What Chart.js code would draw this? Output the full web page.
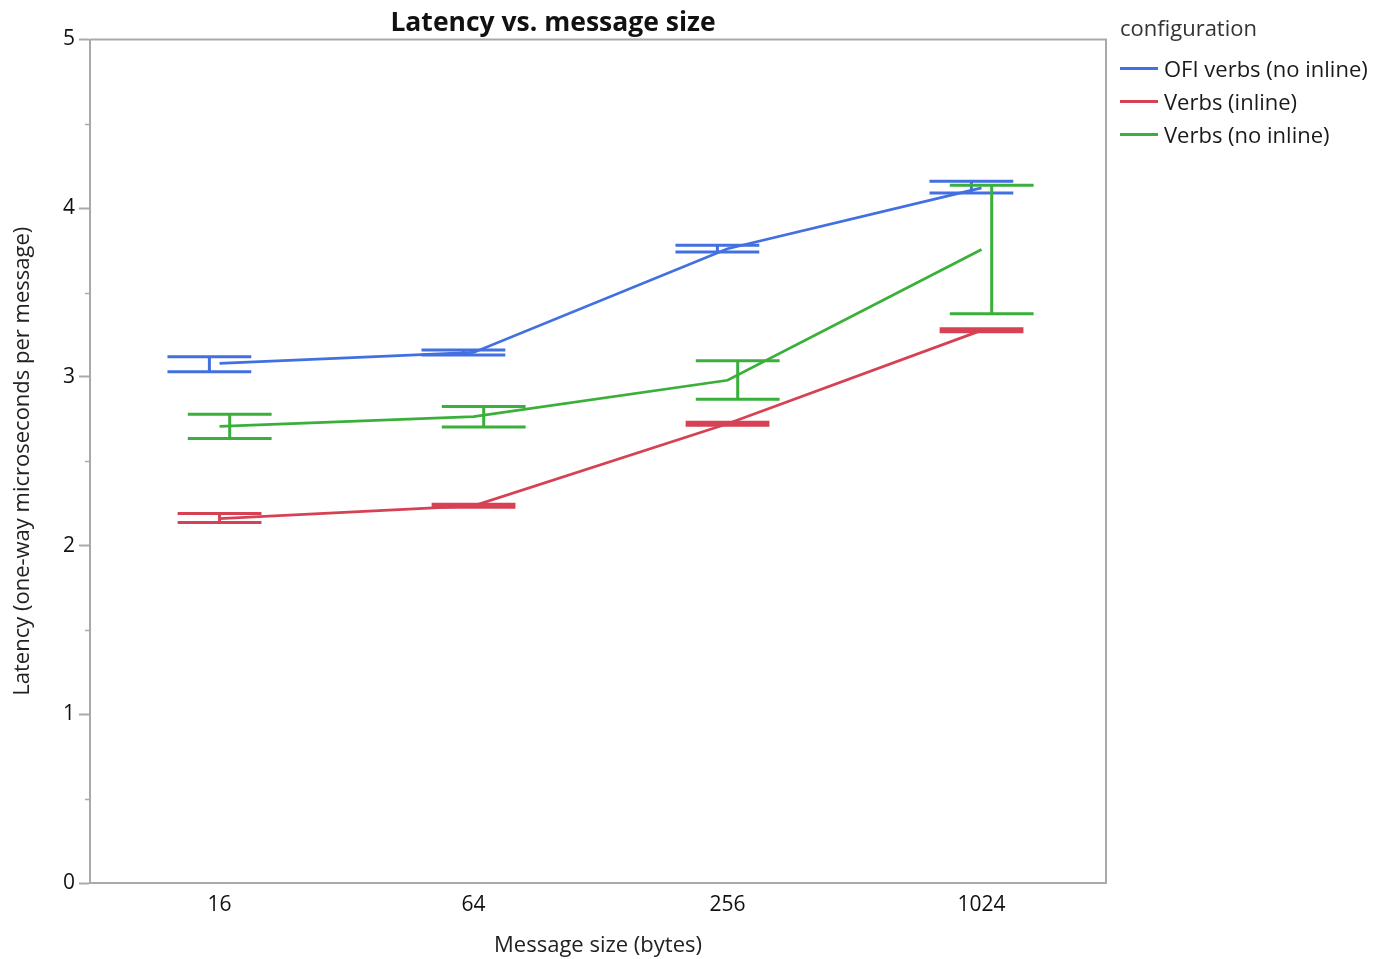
<!DOCTYPE html>
<html>
<head>
<meta charset="utf-8">
<title>Latency vs. message size</title>
<script src="https://cdn.jsdelivr.net/npm/chart.js@4/dist/chart.umd.min.js"></script>
<style>
  html, body { margin: 0; padding: 0; background: #ffffff; }
  #wrap { position: relative; width: 1373px; height: 959px; }
  #chart { position: absolute; left: 0; top: 0; }
  #legend { position: absolute; left: 1120px; top: 0; font-family: 'Open Sans', 'Noto Sans', sans-serif; color: #1a1a1a; }
  #legend .ttl { position: absolute; left: 0; top: 12px; font-size: 22px; line-height: 30px; white-space: nowrap; color: #333; }
  #legend .row { position: absolute; left: 0; height: 33px; line-height: 33px; font-size: 22px; white-space: nowrap; }
  #legend .sw { position: absolute; left: 0; top: 15px; width: 38px; height: 3px; }
  #legend .lbl { position: absolute; left: 44px; top: 0; }
</style>
</head>
<body>
<div id="wrap">
  <canvas id="chart" width="1373" height="959"></canvas>
  <div id="legend"></div>
</div>
<script>
// Message sizes on the x axis
const categories = ['16', '64', '256', '1024'];
const yTickValues = [0, 1, 2, 3, 4, 5];
const legendTitle = 'configuration';

// OFI verbs (no inline): mean latency and error-bar bounds
const ofiNoInlineMean = [3.08, 3.145, 3.76, 4.12];
const ofiNoInlineLow  = [3.03, 3.13, 3.74, 4.09];
const ofiNoInlineHigh = [3.12, 3.16, 3.78, 4.16];

// Verbs (inline)
const verbsInlineMean = [2.16, 2.236, 2.722, 3.276];
const verbsInlineLow  = [2.137, 2.227, 2.713, 3.267];
const verbsInlineHigh = [2.19, 2.245, 2.731, 3.285];

// Verbs (no inline)
const verbsNoInlineMean = [2.706, 2.764, 2.98, 3.755];
const verbsNoInlineLow  = [2.635, 2.703, 2.867, 3.375];
const verbsNoInlineHigh = [2.778, 2.825, 3.096, 4.136];

const FONT = "'Open Sans', 'Noto Sans', sans-serif";
const AXIS_GREY = '#a9a9a9';
const LINE_W = 2.75;

function toPoints(values) {
  return values.map((v, i) => ({ x: i, y: v }));
}

function series(label, color, mean, low, high, offset) {
  return {
    label: label,
    data: toPoints(mean),
    borderColor: color,
    backgroundColor: color,
    borderWidth: LINE_W,
    pointRadius: 0,
    pointHoverRadius: 0,
    tension: 0,
    errorLow: low,
    errorHigh: high,
    errorOffset: offset
  };
}

const datasets = [
  series('OFI verbs (no inline)', 'rgb(66,112,225)', ofiNoInlineMean, ofiNoInlineLow, ofiNoInlineHigh, -0.04),
  series('Verbs (inline)', 'rgb(214,66,84)', verbsInlineMean, verbsInlineLow, verbsInlineHigh, 0),
  series('Verbs (no inline)', 'rgb(58,176,58)', verbsNoInlineMean, verbsNoInlineLow, verbsNoInlineHigh, 0.04)
];

// Draws the error bars (whisker + two caps) for every series, slightly dodged per series
const errorBarPlugin = {
  id: 'errorBars',
  afterDatasetsDraw(chart) {
    const { ctx, scales: { x, y } } = chart;
    const step = x.getPixelForValue(1) - x.getPixelForValue(0);
    const half = step * 0.165;
    chart.data.datasets.forEach((ds, di) => {
      if (!chart.isDatasetVisible(di)) return;
      ctx.save();
      ctx.strokeStyle = ds.borderColor;
      ctx.lineWidth = 3;
      ctx.lineCap = 'butt';
      ds.errorLow.forEach((lo, i) => {
        const cx = x.getPixelForValue(i + ds.errorOffset);
        const yl = y.getPixelForValue(lo);
        const yh = y.getPixelForValue(ds.errorHigh[i]);
        ctx.beginPath();
        ctx.moveTo(cx, yl); ctx.lineTo(cx, yh);
        ctx.moveTo(cx - half, yl); ctx.lineTo(cx + half, yl);
        ctx.moveTo(cx - half, yh); ctx.lineTo(cx + half, yh);
        ctx.stroke();
      });
      ctx.restore();
    });
  }
};

// Frame on the top/right of the plot and short minor ticks on the value axis
const framePlugin = {
  id: 'frame',
  afterDraw(chart) {
    const { ctx, chartArea: a, scales: { y } } = chart;
    ctx.save();
    ctx.strokeStyle = AXIS_GREY;
    ctx.lineWidth = 2;
    ctx.beginPath();
    ctx.moveTo(a.left, a.top); ctx.lineTo(a.right, a.top); ctx.lineTo(a.right, a.bottom);
    ctx.stroke();
    ctx.lineWidth = 1.5;
    ctx.beginPath();
    y.ticks.forEach(t => {
      if (!Number.isInteger(t.value)) {
        const py = Math.round(y.getPixelForValue(t.value)) + 0.5;
        ctx.moveTo(a.left - 5, py); ctx.lineTo(a.left, py);
      }
    });
    ctx.stroke();
    ctx.restore();
  }
};

const chart = new Chart(document.getElementById('chart'), {
  type: 'line',
  data: { datasets: datasets },
  plugins: [errorBarPlugin, framePlugin],
  options: {
    responsive: false,
    animation: false,
    layout: { padding: { left: 0, right: 267, top: 0, bottom: 0 } },
    plugins: {
      legend: { display: false },
      tooltip: { enabled: false },
      title: {
        display: true,
        text: 'Latency vs. message size',
        color: '#111',
        font: { family: FONT, size: 26.5, weight: 'bold' },
        padding: { top: 7.5, bottom: 0.2 }
      }
    },
    scales: {
      x: {
        type: 'linear',
        min: -0.51,
        max: 3.49,
        afterBuildTicks: (scale) => { scale.ticks = categories.map((c, i) => ({ value: i })); },
        afterFit: (scale) => { scale.height = 76; },
        grid: { display: true, drawOnChartArea: false, drawTicks: false },
        border: { color: AXIS_GREY, width: 2 },
        ticks: {
          autoSkip: false,
          maxRotation: 0,
          padding: 9,
          color: '#111',
          font: { family: FONT, size: 21 },
          callback: (v) => categories[v]
        },
        title: {
          display: true,
          text: 'Message size (bytes)',
          color: '#222',
          font: { family: FONT, size: 22 },
          padding: { top: 0, bottom: 0 }
        }
      },
      y: {
        min: yTickValues[0],
        max: yTickValues[yTickValues.length - 1],
        afterFit: (scale) => { scale.width = 90; },
        grid: {
          drawOnChartArea: false,
          drawTicks: true,
          tickLength: 11,
          tickWidth: 2,
          tickColor: (ctx) => (ctx.tick && Number.isInteger(ctx.tick.value)) ? AXIS_GREY : 'rgba(0,0,0,0)'
        },
        border: { color: AXIS_GREY, width: 2 },
        ticks: {
          stepSize: 0.5,
          autoSkip: false,
          padding: 4,
          color: '#111',
          font: { family: FONT, size: 21 },
          callback: (v) => yTickValues.includes(v) ? String(v) : ''
        },
        title: {
          display: true,
          text: 'Latency (one-way microseconds per message)',
          color: '#222',
          font: { family: FONT, size: 22 },
          padding: { top: 10, bottom: 0 }
        }
      }
    }
  }
});

// Legend built from the chart's own datasets
const legendEl = document.getElementById('legend');
const ttl = document.createElement('div');
ttl.className = 'ttl';
ttl.textContent = legendTitle;
legendEl.appendChild(ttl);
chart.data.datasets.forEach((ds, i) => {
  const row = document.createElement('div');
  row.className = 'row';
  row.style.top = (52 + 33 * i) + 'px';
  const sw = document.createElement('span');
  sw.className = 'sw';
  sw.style.background = ds.borderColor;
  const lbl = document.createElement('span');
  lbl.className = 'lbl';
  lbl.textContent = ds.label;
  row.appendChild(sw);
  row.appendChild(lbl);
  legendEl.appendChild(row);
});
</script>
</body>
</html>
